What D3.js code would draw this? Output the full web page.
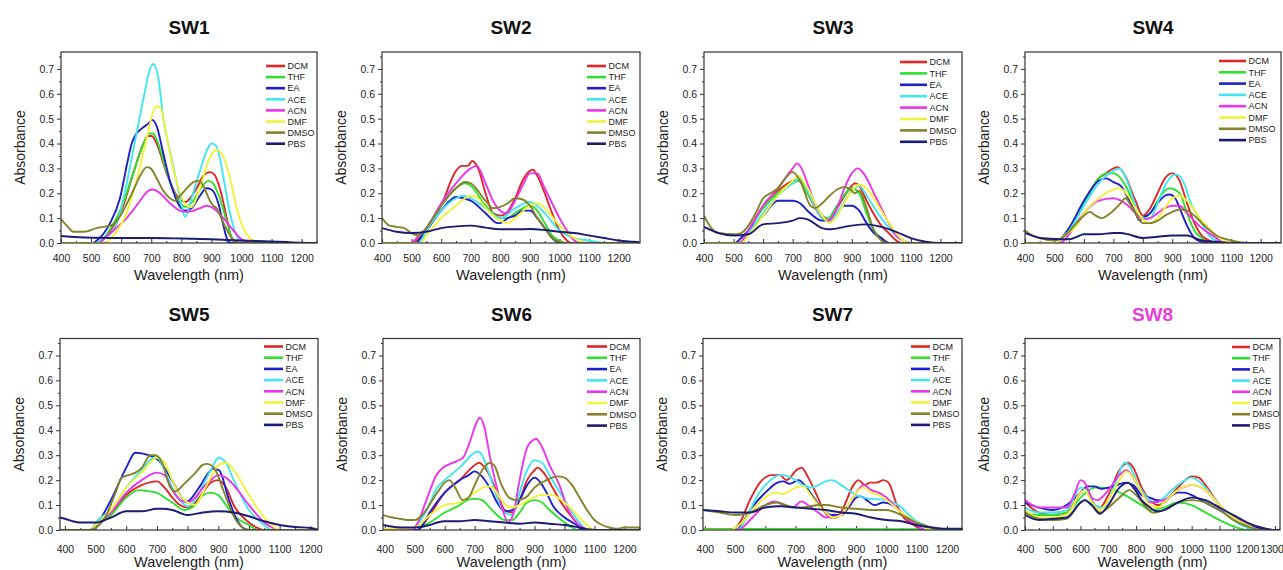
<!DOCTYPE html>
<html>
<head>
<meta charset="utf-8">
<script src="https://cdn.jsdelivr.net/npm/d3@7"></script>
<style>
  html, body { margin: 0; padding: 0; background: #fff; }
  svg { display: block; font-family: Arial, "Liberation Sans", sans-serif; }
</style>
</head>
<body>
<svg id="chart" width="1283" height="570"></svg>
<script>
// Solvents and line colours (legend order)
const solvents = ["DCM", "THF", "EA", "ACE", "ACN", "DMF", "DMSO", "PBS"];
const solventColors = ["#e02626", "#2fe02f", "#1f1fcc", "#42e6ee", "#ec34ec", "#f2f23a", "#83832a", "#1c1c72"];

const titles = ["SW1", "SW2", "SW3", "SW4", "SW5", "SW6", "SW7", "SW8"];
const titleColors = ["#111", "#111", "#111", "#111", "#111", "#111", "#111", "#e83fd2"];

const yTicks = [0, 0.1, 0.2, 0.3, 0.4, 0.5, 0.6, 0.7];
const xTicks = [400, 500, 600, 700, 800, 900, 1000, 1100, 1200];
const xTicksWide = [400, 500, 600, 700, 800, 900, 1000, 1100, 1200, 1300];

// Absorption spectra: [wavelength (nm), absorbance] per solvent, in legend order
const sw1 = [
  [[400,0],[520,0],[552,0.03],[580,0.08],[607,0.15],[640,0.28],[674,0.40],[690,0.43],[701,0.43],[718,0.40],[751,0.28],[785,0.19],[801,0.17],[815,0.165],[829,0.18],[851,0.22],[873,0.27],[895,0.285],[910,0.275],[928,0.22],[951,0.10],[962,0.04],[975,0.01],[1000,0],[1260,0]],
  [[400,0],[525,0],[555,0.04],[600,0.14],[640,0.28],[675,0.40],[695,0.44],[705,0.44],[720,0.41],[750,0.29],[785,0.18],[815,0.145],[840,0.17],[865,0.22],[890,0.25],[905,0.24],[925,0.19],[950,0.09],[965,0.03],[985,0],[1260,0]],
  [[400,0],[505,0],[519,0.01],[563,0.08],[596,0.18],[620,0.32],[635,0.40],[651,0.44],[668,0.46],[690,0.48],[703,0.495],[718,0.47],[740,0.36],[762,0.25],[785,0.17],[812,0.13],[834,0.14],[862,0.19],[884,0.22],[900,0.215],[923,0.16],[940,0.07],[951,0.02],[965,0],[1260,0]],
  [[400,0],[515,0],[530,0.01],[574,0.05],[596,0.12],[615,0.22],[630,0.31],[651,0.44],[674,0.58],[696,0.70],[707,0.72],[724,0.66],[740,0.50],[762,0.37],[780,0.27],[801,0.15],[812,0.105],[834,0.18],[862,0.29],[884,0.37],[900,0.40],[912,0.395],[925,0.36],[942,0.25],[962,0.12],[984,0.03],[1006,0.005],[1030,0],[1260,0]],
  [[400,0],[525,0],[545,0.02],[574,0.05],[618,0.10],[663,0.17],[690,0.21],[707,0.215],[729,0.20],[762,0.16],[796,0.13],[818,0.125],[862,0.14],[884,0.15],[906,0.14],[940,0.10],[973,0.05],[995,0.02],[1017,0.005],[1040,0],[1260,0]],
  [[400,0],[545,0],[574,0.03],[618,0.12],[651,0.25],[685,0.42],[707,0.53],[720,0.55],[732,0.54],[751,0.43],[773,0.30],[796,0.20],[818,0.15],[834,0.145],[862,0.22],[890,0.33],[915,0.375],[934,0.36],[962,0.26],[984,0.14],[1006,0.06],[1028,0.02],[1050,0.005],[1070,0],[1260,0]],
  [[400,0.095],[419,0.07],[441,0.045],[474,0.045],[519,0.06],[541,0.065],[574,0.075],[607,0.13],[640,0.21],[663,0.27],[685,0.305],[698,0.30],[718,0.26],[740,0.21],[762,0.18],[779,0.17],[796,0.19],[818,0.22],[840,0.245],[856,0.25],[873,0.23],[884,0.20],[895,0.17],[906,0.15],[917,0.14],[940,0.08],[962,0.03],[973,0.01],[990,0],[1260,0]],
  [[400,0.028],[500,0.021],[600,0.02],[700,0.02],[800,0.018],[900,0.015],[1000,0.01],[1050,0.008],[1100,0.006],[1150,0.004],[1200,0.001],[1260,0]]
];

const sw2 = [
  [[400,0],[505,0],[525,0.02],[550,0.05],[600,0.15],[650,0.29],[670,0.31],[690,0.31],[705,0.33],[725,0.30],[750,0.20],[775,0.12],[800,0.11],[820,0.12],[850,0.18],[875,0.25],[900,0.29],[910,0.295],[925,0.27],[950,0.20],[975,0.12],[1000,0.05],[1025,0.01],[1040,0],[1270,0]],
  [[400,0],[515,0],[530,0.02],[550,0.06],[600,0.15],[650,0.22],[680,0.24],[700,0.23],[750,0.15],[800,0.10],[825,0.10],[850,0.12],[900,0.15],[925,0.13],[950,0.08],[975,0.03],[1000,0.01],[1020,0],[1270,0]],
  [[400,0],[515,0],[530,0.02],[550,0.05],[600,0.13],[650,0.185],[675,0.18],[700,0.17],[750,0.12],[790,0.08],[800,0.08],[825,0.10],[850,0.11],[875,0.13],[900,0.13],[925,0.10],[950,0.06],[975,0.02],[1000,0],[1270,0]],
  [[400,0],[525,0],[550,0.05],[600,0.13],[650,0.18],[675,0.19],[700,0.18],[750,0.14],[800,0.10],[850,0.14],[900,0.165],[925,0.15],[950,0.12],[1000,0.05],[1050,0.02],[1100,0.01],[1150,0],[1270,0]],
  [[400,0],[495,0],[525,0.03],[550,0.06],[600,0.16],[650,0.24],[700,0.30],[720,0.31],[750,0.24],[775,0.17],[800,0.13],[820,0.12],[850,0.17],[875,0.23],[900,0.28],[925,0.28],[950,0.22],[975,0.16],[1000,0.10],[1025,0.05],[1050,0.01],[1070,0],[1270,0]],
  [[400,0],[530,0],[550,0.03],[600,0.10],[650,0.15],[700,0.19],[725,0.18],[750,0.14],[800,0.09],[825,0.08],[850,0.10],[900,0.15],[925,0.16],[950,0.14],[1000,0.07],[1050,0.02],[1100,0],[1270,0]],
  [[400,0.10],[425,0.07],[450,0.065],[475,0.06],[500,0.04],[525,0.03],[550,0.06],[600,0.15],[650,0.22],[680,0.245],[700,0.24],[750,0.17],[775,0.14],[800,0.145],[825,0.16],[850,0.18],[875,0.175],[900,0.15],[925,0.10],[950,0.06],[975,0.02],[1000,0.005],[1020,0],[1270,0]],
  [[400,0.06],[450,0.045],[500,0.04],[550,0.045],[600,0.06],[650,0.067],[700,0.07],[750,0.062],[800,0.055],[850,0.055],[900,0.056],[950,0.052],[1000,0.045],[1050,0.04],[1100,0.03],[1150,0.02],[1200,0.01],[1250,0.005],[1270,0.003]]
];

const sw3 = [
  [[400,0],[520,0],[550,0.05],[600,0.15],[650,0.21],[700,0.25],[720,0.255],[750,0.20],[800,0.10],[820,0.09],[850,0.14],[900,0.23],[910,0.24],[925,0.23],[950,0.17],[1000,0.07],[1025,0.04],[1050,0.01],[1070,0],[1270,0]],
  [[400,0],[520,0],[550,0.05],[600,0.14],[650,0.20],[700,0.24],[720,0.25],[750,0.20],[800,0.11],[820,0.10],[850,0.15],[900,0.22],[925,0.20],[950,0.12],[975,0.05],[1000,0.02],[1025,0],[1270,0]],
  [[400,0],[505,0],[525,0.02],[550,0.05],[600,0.11],[650,0.17],[700,0.17],[725,0.16],[750,0.13],[800,0.09],[825,0.09],[850,0.12],[875,0.15],[900,0.15],[925,0.13],[950,0.08],[975,0.04],[1000,0.02],[1025,0],[1270,0]],
  [[400,0],[520,0],[550,0.04],[600,0.12],[650,0.19],[700,0.24],[725,0.26],[750,0.21],[800,0.10],[825,0.09],[850,0.12],[900,0.21],[925,0.23],[950,0.19],[1000,0.10],[1050,0.03],[1075,0.01],[1100,0],[1270,0]],
  [[400,0],[520,0],[550,0.05],[600,0.15],[650,0.22],[700,0.30],[715,0.32],[730,0.30],[750,0.24],[775,0.16],[800,0.11],[820,0.09],[850,0.14],[875,0.22],[900,0.28],[920,0.30],[940,0.28],[975,0.20],[1000,0.14],[1025,0.08],[1050,0.03],[1075,0.01],[1100,0],[1270,0]],
  [[400,0],[525,0],[550,0.03],[600,0.11],[650,0.19],[700,0.25],[720,0.27],[750,0.22],[800,0.11],[825,0.08],[850,0.11],[900,0.21],[925,0.235],[950,0.22],[1000,0.13],[1050,0.04],[1075,0.01],[1100,0],[1270,0]],
  [[400,0.11],[425,0.06],[450,0.04],[500,0.035],[525,0.04],[575,0.12],[600,0.18],[625,0.20],[650,0.22],[675,0.26],[700,0.285],[725,0.25],[760,0.15],[775,0.14],[800,0.16],[825,0.19],[850,0.215],[875,0.225],[900,0.21],[910,0.20],[925,0.21],[950,0.14],[975,0.05],[1000,0.01],[1020,0],[1270,0]],
  [[400,0.065],[450,0.04],[500,0.03],[550,0.035],[600,0.075],[650,0.08],[700,0.09],[725,0.10],[750,0.095],[800,0.06],[825,0.055],[875,0.065],[900,0.07],[950,0.075],[1000,0.065],[1050,0.045],[1100,0.02],[1150,0.005],[1200,0],[1270,0]]
];

const sw4 = [
  [[400,0],[510,0],[525,0.02],[550,0.06],[600,0.16],[650,0.26],[675,0.28],[700,0.30],[715,0.305],[740,0.27],[775,0.17],[800,0.11],[825,0.14],[850,0.20],[875,0.26],[900,0.28],[925,0.25],[950,0.16],[975,0.08],[1000,0.03],[1025,0.01],[1050,0],[1270,0]],
  [[400,0],[510,0],[525,0.02],[550,0.06],[600,0.16],[650,0.26],[675,0.28],[700,0.28],[725,0.26],[750,0.21],[775,0.14],[800,0.10],[825,0.12],[850,0.17],[875,0.21],[890,0.22],[925,0.20],[950,0.12],[975,0.05],[1000,0.02],[1025,0],[1270,0]],
  [[400,0],[510,0],[525,0.02],[550,0.06],[600,0.17],[650,0.25],[675,0.26],[700,0.245],[725,0.23],[750,0.18],[775,0.12],[790,0.09],[800,0.10],[825,0.12],[850,0.16],[875,0.19],[890,0.195],[910,0.18],[925,0.14],[950,0.07],[975,0.02],[1000,0.005],[1020,0],[1270,0]],
  [[400,0],[510,0],[525,0.02],[550,0.05],[600,0.15],[650,0.24],[700,0.29],[720,0.30],[750,0.24],[775,0.15],[800,0.10],[825,0.10],[850,0.16],[875,0.23],[900,0.27],[915,0.275],[940,0.24],[960,0.17],[1000,0.08],[1025,0.03],[1050,0.01],[1075,0],[1270,0]],
  [[400,0],[520,0],[540,0.02],[575,0.08],[600,0.12],[650,0.17],[700,0.18],[725,0.17],[750,0.15],[775,0.12],[800,0.095],[825,0.10],[850,0.12],[875,0.14],[900,0.15],[925,0.15],[950,0.12],[1000,0.06],[1050,0.02],[1075,0],[1270,0]],
  [[400,0],[510,0],[525,0.02],[575,0.07],[600,0.12],[650,0.18],[700,0.215],[720,0.22],[750,0.19],[775,0.14],[800,0.095],[825,0.08],[850,0.10],[875,0.14],[900,0.18],[925,0.19],[950,0.17],[1000,0.09],[1050,0.03],[1075,0.01],[1100,0],[1270,0]],
  [[400,0.05],[425,0.03],[450,0.02],[500,0.01],[525,0.02],[575,0.08],[600,0.11],[620,0.125],[640,0.11],[660,0.10],[690,0.12],[725,0.16],[740,0.18],[760,0.15],[790,0.09],[800,0.08],[825,0.08],[850,0.09],[875,0.11],[900,0.125],[925,0.135],[950,0.13],[975,0.11],[1000,0.08],[1050,0.03],[1100,0.01],[1150,0],[1270,0]],
  [[400,0.04],[425,0.03],[450,0.02],[500,0.016],[550,0.015],[575,0.025],[600,0.035],[650,0.035],[700,0.04],[725,0.04],[750,0.035],[800,0.02],[850,0.025],[900,0.03],[950,0.03],[1000,0.01],[1050,0.005],[1100,0],[1270,0]]
];

const sw5 = [
  [[384,0],[485,0],[500,0.02],[550,0.06],[600,0.14],[650,0.18],[700,0.195],[725,0.17],[750,0.13],[775,0.10],[800,0.09],[825,0.11],[850,0.15],[875,0.19],[900,0.20],[925,0.17],[950,0.10],[1000,0.03],[1025,0.01],[1050,0],[1230,0]],
  [[384,0],[485,0],[500,0.02],[550,0.06],[600,0.13],[640,0.16],[675,0.155],[700,0.15],[725,0.13],[750,0.11],[790,0.08],[825,0.10],[850,0.14],[875,0.15],[900,0.14],[925,0.10],[950,0.06],[1000,0.02],[1030,0],[1230,0]],
  [[384,0],[490,0],[509,0.03],[550,0.12],[600,0.25],[629,0.31],[673,0.30],[705,0.28],[749,0.20],[788,0.12],[798,0.115],[837,0.17],[869,0.23],[882,0.245],[902,0.24],[935,0.12],[957,0.05],[979,0.01],[1000,0],[1230,0]],
  [[384,0],[485,0],[500,0.03],[550,0.08],[600,0.17],[650,0.24],[690,0.29],[700,0.29],[725,0.24],[750,0.17],[775,0.12],[800,0.095],[825,0.12],[850,0.18],[880,0.25],[900,0.29],[925,0.27],[950,0.20],[1000,0.08],[1050,0.02],[1075,0],[1230,0]],
  [[384,0],[485,0],[500,0.02],[550,0.07],[600,0.15],[650,0.20],[700,0.23],[725,0.22],[750,0.16],[775,0.12],[800,0.11],[825,0.13],[850,0.17],[875,0.20],[900,0.22],[925,0.21],[950,0.18],[1000,0.10],[1050,0.03],[1075,0.01],[1100,0],[1230,0]],
  [[384,0],[485,0],[500,0.02],[550,0.08],[600,0.17],[650,0.23],[700,0.29],[725,0.27],[750,0.20],[775,0.14],[800,0.11],[825,0.10],[850,0.15],[875,0.21],[900,0.26],[925,0.27],[950,0.24],[1000,0.14],[1050,0.05],[1075,0.02],[1100,0],[1230,0]],
  [[384,0],[480,0],[531,0.05],[565,0.15],[585,0.21],[607,0.22],[630,0.23],[651,0.25],[678,0.30],[695,0.30],[717,0.27],[744,0.17],[760,0.155],[793,0.19],[826,0.23],[848,0.26],[864,0.265],[891,0.24],[913,0.17],[935,0.10],[957,0.04],[979,0.01],[1000,0],[1230,0]],
  [[384,0.05],[400,0.045],[425,0.035],[450,0.03],[500,0.03],[550,0.05],[600,0.075],[650,0.075],[700,0.085],[720,0.085],[750,0.08],[800,0.06],[850,0.07],[900,0.075],[950,0.07],[1000,0.055],[1050,0.035],[1100,0.02],[1150,0.012],[1200,0.008],[1230,0]]
];

const sw6 = [
  [[394,0],[510,0],[520,0.01],[550,0.06],[600,0.15],[650,0.20],[700,0.26],[715,0.27],[740,0.24],[775,0.15],[800,0.08],[825,0.07],[850,0.12],[875,0.20],[900,0.24],[910,0.25],[930,0.23],[960,0.17],[1000,0.09],[1040,0.03],[1060,0],[1255,0]],
  [[394,0],[510,0],[520,0.01],[550,0.03],[600,0.07],[650,0.10],[675,0.12],[700,0.125],[725,0.12],[750,0.09],[775,0.06],[800,0.04],[825,0.04],[850,0.07],[875,0.11],[900,0.12],[925,0.11],[950,0.08],[1000,0.03],[1025,0.01],[1045,0],[1255,0]],
  [[394,0],[510,0],[520,0.01],[550,0.07],[600,0.15],[650,0.20],[680,0.22],[700,0.235],[720,0.22],[750,0.17],[775,0.11],[800,0.075],[825,0.08],[850,0.12],[875,0.18],[900,0.21],[920,0.19],[940,0.15],[960,0.10],[1000,0.05],[1040,0.02],[1060,0],[1255,0]],
  [[394,0],[490,0],[500,0.01],[540,0.08],[575,0.17],[600,0.20],[650,0.25],[700,0.31],[710,0.315],[725,0.30],[750,0.22],[775,0.13],[800,0.07],[825,0.06],[850,0.15],[875,0.24],[900,0.28],[925,0.27],[950,0.22],[1000,0.12],[1050,0.03],[1075,0],[1255,0]],
  [[394,0],[483,0],[506,0.02],[539,0.12],[572,0.22],[594,0.25],[628,0.27],[661,0.29],[683,0.35],[706,0.43],[717,0.45],[733,0.41],[750,0.30],[772,0.18],[794,0.08],[811,0.03],[828,0.06],[850,0.20],[872,0.32],[894,0.36],[906,0.365],[922,0.34],[950,0.26],[983,0.18],[1006,0.10],[1039,0.03],[1061,0.01],[1080,0],[1255,0]],
  [[394,0.005],[450,0.005],[500,0.01],[550,0.06],[600,0.10],[650,0.11],[700,0.15],[740,0.175],[760,0.17],[790,0.12],[820,0.09],[850,0.10],[880,0.12],[920,0.14],[960,0.14],[1000,0.11],[1050,0.05],[1075,0.02],[1100,0],[1255,0]],
  [[394,0.06],[425,0.05],[450,0.045],[475,0.04],[500,0.04],[525,0.06],[575,0.15],[600,0.19],[615,0.20],[635,0.17],[660,0.12],[680,0.13],[700,0.18],[725,0.24],[750,0.27],[765,0.26],[790,0.18],[815,0.13],[840,0.12],[870,0.13],[900,0.17],[940,0.20],[975,0.215],[1000,0.21],[1025,0.18],[1050,0.13],[1075,0.08],[1100,0.04],[1125,0.02],[1150,0.01],[1175,0.005],[1200,0.01],[1255,0.01]],
  [[394,0.02],[450,0.01],[500,0.01],[550,0.02],[575,0.03],[600,0.035],[650,0.035],[700,0.04],[750,0.035],[800,0.03],[850,0.025],[900,0.03],[950,0.025],[1000,0.02],[1050,0.01],[1100,0],[1255,0]]
];

const sw7 = [
  [[394,0],[483,0],[516,0.03],[549,0.12],[582,0.19],[621,0.22],[648,0.22],[670,0.20],[703,0.24],[720,0.25],[742,0.21],[770,0.14],[792,0.08],[819,0.05],[836,0.05],[858,0.09],[891,0.18],[908,0.20],[930,0.18],[946,0.19],[968,0.19],[990,0.20],[1007,0.19],[1035,0.10],[1057,0.05],[1090,0.02],[1123,0],[1255,0]],
  [[394,0.004],[600,0.004],[800,0.004],[1000,0.003],[1100,0.003],[1150,0],[1255,0]],
  [[394,0],[505,0],[520,0.02],[550,0.08],[600,0.15],[640,0.19],[660,0.195],[680,0.185],[710,0.20],[730,0.18],[760,0.13],[790,0.08],[820,0.06],[850,0.06],[875,0.09],[900,0.13],[915,0.135],[935,0.12],[960,0.10],[990,0.11],[1020,0.10],[1050,0.07],[1075,0.04],[1100,0.02],[1125,0],[1255,0]],
  [[394,0],[500,0],[525,0.02],[550,0.08],[575,0.14],[600,0.18],[650,0.22],[675,0.215],[700,0.20],[725,0.18],[750,0.17],[775,0.18],[800,0.195],[820,0.20],[850,0.18],[875,0.16],[900,0.14],[925,0.13],[950,0.125],[1000,0.12],[1025,0.11],[1050,0.09],[1075,0.06],[1100,0.035],[1125,0.02],[1150,0.005],[1170,0],[1255,0]],
  [[394,0],[505,0],[525,0.01],[550,0.04],[600,0.10],[630,0.115],[660,0.10],[690,0.09],[720,0.115],[740,0.10],[775,0.07],[800,0.05],[850,0.06],[875,0.10],[900,0.15],[925,0.18],[950,0.16],[975,0.15],[1000,0.13],[1025,0.10],[1050,0.07],[1075,0.04],[1100,0.02],[1125,0],[1255,0]],
  [[394,0],[490,0],[500,0.01],[525,0.03],[550,0.07],[600,0.13],[630,0.15],[660,0.145],[700,0.17],[725,0.175],[750,0.14],[775,0.10],[800,0.07],[825,0.05],[850,0.06],[875,0.10],[900,0.15],[925,0.17],[950,0.15],[975,0.14],[1000,0.12],[1050,0.07],[1100,0.03],[1125,0.01],[1150,0],[1255,0]],
  [[394,0.08],[450,0.07],[500,0.06],[550,0.07],[600,0.10],[640,0.11],[680,0.095],[720,0.09],[750,0.095],[775,0.10],[800,0.10],[850,0.09],[900,0.085],[950,0.08],[1000,0.08],[1050,0.06],[1100,0.03],[1150,0.01],[1175,0],[1255,0]],
  [[394,0.08],[450,0.075],[500,0.07],[550,0.07],[600,0.09],[650,0.095],[700,0.09],[750,0.085],[800,0.08],[850,0.07],[900,0.065],[950,0.05],[1000,0.04],[1050,0.035],[1100,0.02],[1150,0.01],[1200,0.005],[1255,0.005]]
];

const sw8 = [
  [[400,0.11],[450,0.07],[500,0.06],[550,0.07],[600,0.15],[620,0.17],[650,0.10],[670,0.09],[700,0.14],[740,0.24],[770,0.27],[790,0.25],[820,0.17],[850,0.12],[880,0.10],[900,0.11],[950,0.17],[1000,0.215],[1025,0.21],[1050,0.18],[1100,0.10],[1150,0.05],[1200,0.02],[1250,0.005],[1300,0],[1318,0]],
  [[400,0.07],[450,0.06],[500,0.06],[550,0.07],[600,0.13],[620,0.15],[650,0.17],[680,0.17],[720,0.16],[760,0.14],[790,0.12],[820,0.10],[850,0.08],[900,0.09],[950,0.11],[1000,0.10],[1050,0.07],[1100,0.04],[1150,0.015],[1200,0],[1318,0]],
  [[400,0.11],[450,0.09],[500,0.08],[550,0.10],[600,0.15],[625,0.175],[650,0.175],[675,0.165],[700,0.17],[730,0.18],[760,0.19],[790,0.18],[820,0.14],[850,0.13],[875,0.12],[900,0.12],[950,0.15],[975,0.15],[1000,0.14],[1050,0.11],[1100,0.08],[1150,0.05],[1200,0.02],[1250,0.005],[1280,0],[1318,0]],
  [[400,0.09],[450,0.07],[500,0.07],[550,0.08],[600,0.17],[620,0.16],[650,0.10],[680,0.09],[720,0.17],[760,0.27],[780,0.25],[800,0.20],[850,0.12],[875,0.11],[900,0.13],[950,0.18],[1000,0.21],[1050,0.17],[1100,0.10],[1150,0.04],[1200,0.01],[1230,0],[1318,0]],
  [[400,0.12],[450,0.09],[500,0.09],[550,0.09],[580,0.15],[600,0.20],[615,0.19],[640,0.13],[660,0.12],[700,0.16],[740,0.22],[765,0.24],[790,0.21],[820,0.15],[850,0.11],[900,0.12],[950,0.16],[1000,0.18],[1050,0.16],[1100,0.10],[1150,0.05],[1200,0.02],[1240,0],[1318,0]],
  [[400,0.08],[450,0.05],[500,0.05],[550,0.06],[600,0.15],[615,0.16],[640,0.11],[670,0.08],[700,0.12],[740,0.20],[765,0.235],[790,0.21],[820,0.15],[850,0.10],[880,0.09],[900,0.11],[950,0.16],[1000,0.18],[1050,0.16],[1100,0.10],[1150,0.05],[1200,0.02],[1250,0],[1318,0]],
  [[400,0.07],[450,0.045],[500,0.04],[550,0.045],[600,0.11],[615,0.12],[640,0.10],[670,0.07],[700,0.09],[740,0.13],[775,0.16],[800,0.14],[830,0.10],[860,0.07],[900,0.08],[950,0.11],[1000,0.12],[1050,0.11],[1100,0.08],[1150,0.04],[1200,0.015],[1250,0],[1318,0]],
  [[400,0.06],[450,0.04],[500,0.045],[550,0.05],[600,0.11],[615,0.12],[640,0.10],[670,0.065],[700,0.10],[740,0.17],[770,0.19],[790,0.17],[820,0.12],[850,0.09],[875,0.075],[900,0.08],[950,0.11],[1000,0.13],[1050,0.12],[1100,0.09],[1150,0.06],[1200,0.03],[1250,0.01],[1300,0],[1318,0]]
];

const spectra = [sw1, sw2, sw3, sw4, sw5, sw6, sw7, sw8];
const xDomains = [[400, 1251], [400, 1272], [400, 1273], [400, 1269], [384, 1225], [394, 1252], [394, 1250], [400, 1318]];
const yDomain = [0, 0.768];

// Panel frames (plot area, in px) and legend placement
const frames = [
  { l: 61,   r: 317,  t: 52,    b: 243,  leg: [51, 19, 14, 11.1] },
  { l: 382,  r: 640,  t: 52,    b: 243,  leg: [53, 19, 14, 11.1] },
  { l: 704,  r: 962,  t: 52,    b: 243,  leg: [62, 27, 10, 11.4] },
  { l: 1025, r: 1281, t: 52,    b: 243,  leg: [62, 27, 9,  11.3] },
  { l: 60,   r: 318,  t: 338.5, b: 530,  leg: [54, 19, 8,  11.2] },
  { l: 383,  r: 640,  t: 338.5, b: 530,  leg: [53, 20, 8,  11.3] },
  { l: 703,  r: 962,  t: 338.5, b: 530,  leg: [51, 19, 8,  11.2] },
  { l: 1025, r: 1280, t: 338.5, b: 530,  leg: [48, 18, 8.5, 11.2] }
];

const svg = d3.select("#chart");
const fmtY = d3.format(".1f");
const fmtX = d3.format("d");

frames.forEach((f, i) => {
  const g = svg.append("g");
  const x = d3.scaleLinear().domain(xDomains[i]).range([f.l, f.r]);
  const y = d3.scaleLinear().domain(yDomain).range([f.b, f.t]);
  const ticksX = i === 7 ? xTicksWide : xTicks;
  const minorX = d3.range(Math.ceil(xDomains[i][0] / 50) * 50, xDomains[i][1] + 1, 50).filter(v => v % 100 !== 0);
  const minorY = [0.05, 0.15, 0.25, 0.35, 0.45, 0.55, 0.65, 0.75];

  // clip region for spectra
  const clipId = "clip" + i;
  svg.append("clipPath").attr("id", clipId)
    .append("rect").attr("x", f.l).attr("y", f.t).attr("width", f.r - f.l).attr("height", f.b - f.t);

  // y axis
  g.append("g").attr("transform", `translate(${f.l},0)`)
    .call(d3.axisLeft(y).tickValues(yTicks).tickFormat(fmtY).tickSize(4).tickPadding(3));
  g.append("g").attr("transform", `translate(${f.l},0)`)
    .call(d3.axisLeft(y).tickValues(minorY.filter(v => v < yDomain[1])).tickFormat("").tickSize(2));

  // x axis (ticks inside)
  const xAxis = g.append("g").attr("transform", `translate(0,${f.b})`)
    .call(d3.axisBottom(x).tickValues(ticksX).tickFormat(fmtX).tickSize(-4).tickPadding(i < 4 ? 12 : 16));
  g.append("g").attr("transform", `translate(0,${f.b})`)
    .call(d3.axisBottom(x).tickValues(minorX).tickFormat("").tickSize(-2));

  g.selectAll(".domain").remove();
  g.selectAll(".tick line").attr("stroke", "#333").attr("stroke-width", 1);
  g.selectAll(".tick text").attr("font-size", "10.5px").attr("fill", "#222")
    .attr("font-family", 'Arial, "Liberation Sans", sans-serif');

  // keep the last label of the widest axis inside the page
  if (i === 7) {
    xAxis.selectAll(".tick text").filter(d => d === 1300)
      .attr("text-anchor", "end").attr("dx", "0.8em");
  }

  // spectra
  const line = d3.line().x(d => x(d[0])).y(d => y(d[1])).curve(d3.curveMonotoneX);
  const lines = g.append("g").attr("clip-path", `url(#${clipId})`);
  spectra[i].forEach((series, k) => {
    lines.append("path").datum(series)
      .attr("d", line)
      .attr("fill", "none")
      .attr("stroke", solventColors[k])
      .attr("stroke-width", 1.9)
      .attr("stroke-linejoin", "round");
  });

  // frame
  g.append("rect").attr("x", f.l).attr("y", f.t).attr("width", f.r - f.l).attr("height", f.b - f.t)
    .attr("fill", "none").attr("stroke", "#333").attr("stroke-width", 1.2);

  // legend
  const [dx, len, dy, gap] = f.leg;
  const leg = g.append("g");
  solvents.forEach((s, k) => {
    const yy = f.t + dy + k * gap;
    leg.append("line").attr("x1", f.r - dx).attr("x2", f.r - dx + len).attr("y1", yy).attr("y2", yy)
      .attr("stroke", solventColors[k]).attr("stroke-width", 2.6);
    leg.append("text").attr("x", f.r - dx + len + 2.5).attr("y", yy + 3.2)
      .attr("font-size", "9px").attr("fill", "#222").text(s);
  });

  // title
  g.append("text").attr("x", (f.l + f.r) / 2).attr("y", f.t - 18)
    .attr("text-anchor", "middle").attr("font-size", "19px").attr("font-weight", "bold")
    .attr("fill", titleColors[i]).text(titles[i]);

  // axis titles
  g.append("text").attr("x", (f.l + f.r) / 2).attr("y", f.b + 37)
    .attr("text-anchor", "middle").attr("font-size", "14.5px").attr("fill", "#222").text("Wavelength (nm)");
  g.append("text").attr("transform", `translate(${f.l - 36},${(f.t + f.b) / 2}) rotate(-90)`)
    .attr("text-anchor", "middle").attr("font-size", "14px").attr("fill", "#222").text("Absorbance");
});
</script>
</body>
</html>
